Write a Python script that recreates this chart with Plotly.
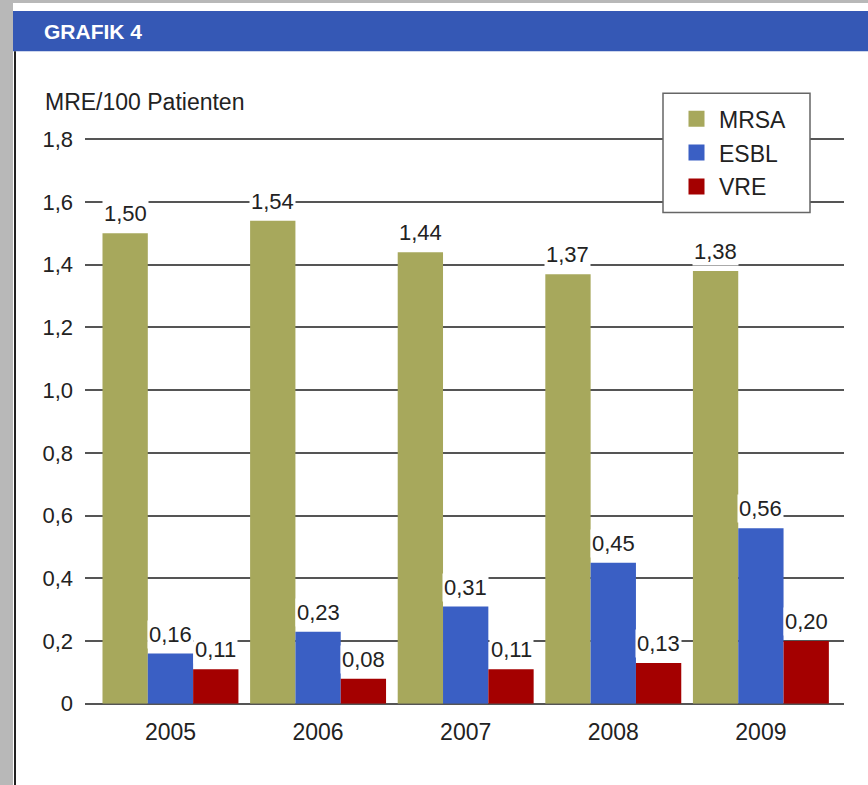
import plotly.graph_objects as go

# --- data -------------------------------------------------------------
years = ["2005", "2006", "2007", "2008", "2009"]
mrsa = [1.50, 1.54, 1.44, 1.37, 1.38]
esbl = [0.16, 0.23, 0.31, 0.45, 0.56]
vre = [0.11, 0.08, 0.11, 0.13, 0.20]

series_names = ["MRSA", "ESBL", "VRE"]
series_colors = ["#a7a85c", "#3a5fc4", "#a40000"]

y_tick_vals = [0, 0.2, 0.4, 0.6, 0.8, 1.0, 1.2, 1.4, 1.6, 1.8]
y_tick_text = ["0", "0,2", "0,4", "0,6", "0,8", "1,0", "1,2", "1,4", "1,6", "1,8"]

# --- layout helpers (pixel -> paper fraction) -------------------------
W, H = 868, 800
REF_H = 785


def fx(x):
    return x / W


def fy(y):
    return 1 - y / REF_H


FONT = "Liberation Sans, Arial, Helvetica, sans-serif"
TEXT = "#222222"
GRID = "#555555"

bargap = 0.079
bw = (1 - bargap) / 3
idx = list(range(len(years)))

fig = go.Figure()

all_series = [mrsa, esbl, vre]
for j, (name, vals, col) in enumerate(zip(series_names, all_series, series_colors)):
    fig.add_trace(go.Bar(
        x=idx, y=vals, width=bw, offset=-1.5 * bw + j * bw,
        marker=dict(color=col, line=dict(width=0)),
        name=name, showlegend=False, hoverinfo="skip",
    ))

# legend entries with larger square swatches
for name, col in zip(series_names, series_colors):
    fig.add_trace(go.Scatter(
        x=[None], y=[None], mode="markers", name=name, legendgroup=name,
        marker=dict(symbol="square", size=16, color=col),
    ))

annotations = []
for j, vals in enumerate(all_series):
    for i, v in enumerate(vals):
        annotations.append(dict(
            x=i + (j - 1) * bw, y=v, xref="x", yref="y",
            text=f"{v:.2f}".replace(".", ","), showarrow=False,
            yanchor="bottom", yshift=5, bgcolor="white", borderpad=1,
            font=dict(family=FONT, size=22, color=TEXT),
        ))

annotations.append(dict(
    x=fx(43), y=fy(102), xref="paper", yref="paper", xanchor="left", yanchor="middle",
    text="MRE/100 Patienten", showarrow=False,
    font=dict(family=FONT, size=23, color=TEXT),
))
annotations.append(dict(
    x=fx(42), y=fy(31), xref="paper", yref="paper", xanchor="left", yanchor="middle",
    text="<b>GRAFIK 4</b>", showarrow=False,
    font=dict(family=FONT, size=21, color="white"),
))

shapes = [
    # page frame
    dict(type="rect", xref="paper", yref="paper", x0=0, x1=1, y0=fy(0), y1=fy(3),
         fillcolor="#b8b8b8", line=dict(width=0), layer="below"),
    dict(type="rect", xref="paper", yref="paper", x0=0, x1=fx(13), y0=0, y1=1,
         fillcolor="#b8b8b8", line=dict(width=0), layer="below"),
    # header bar
    dict(type="rect", xref="paper", yref="paper", x0=fx(13), x1=1, y0=fy(51), y1=fy(11),
         fillcolor="#3558b5", line=dict(width=0), layer="below"),
    # dark left rule
    dict(type="rect", xref="paper", yref="paper", x0=fx(14), x1=fx(16), y0=0, y1=fy(51),
         fillcolor="#222222", line=dict(width=0), layer="below"),
    # legend box
    dict(type="rect", xref="paper", yref="paper", x0=fx(663), x1=fx(810), y0=fy(212), y1=fy(93),
         fillcolor="white", line=dict(color="#666666", width=1.5), layer="above"),
]

fig.update_layout(
    width=W, height=H, autosize=False,
    margin=dict(l=0, r=0, t=0, b=0, pad=0),
    paper_bgcolor="white", plot_bgcolor="white",
    barmode="overlay",
    showlegend=True,
    legend=dict(
        x=fx(674), y=fy(97), xanchor="left", yanchor="top",
        bgcolor="rgba(0,0,0,0)", borderwidth=0,
        font=dict(family=FONT, size=23, color=TEXT),
        tracegroupgap=1, itemwidth=35, itemclick=False, itemdoubleclick=False,
    ),
    xaxis=dict(
        domain=[fx(85), fx(844)], range=[-0.579, 4.563],
        tickvals=idx, ticktext=years, showgrid=False, zeroline=False,
        showline=False, ticks="", ticklabelstandoff=12,
        tickfont=dict(family=FONT, size=23, color=TEXT), fixedrange=True,
    ),
    yaxis=dict(
        domain=[fy(702), fy(123.3)], range=[0, 1.85],
        tickvals=y_tick_vals, ticktext=y_tick_text,
        showgrid=True, gridcolor=GRID, gridwidth=1.5,
        zeroline=True, zerolinecolor=GRID, zerolinewidth=1.5,
        showline=False, ticks="", ticklabelstandoff=11,
        tickfont=dict(family=FONT, size=22, color=TEXT), fixedrange=True,
    ),
    shapes=shapes,
    annotations=annotations,
)

fig.write_html("out.html", config={"responsive": False, "displayModeBar": False})
